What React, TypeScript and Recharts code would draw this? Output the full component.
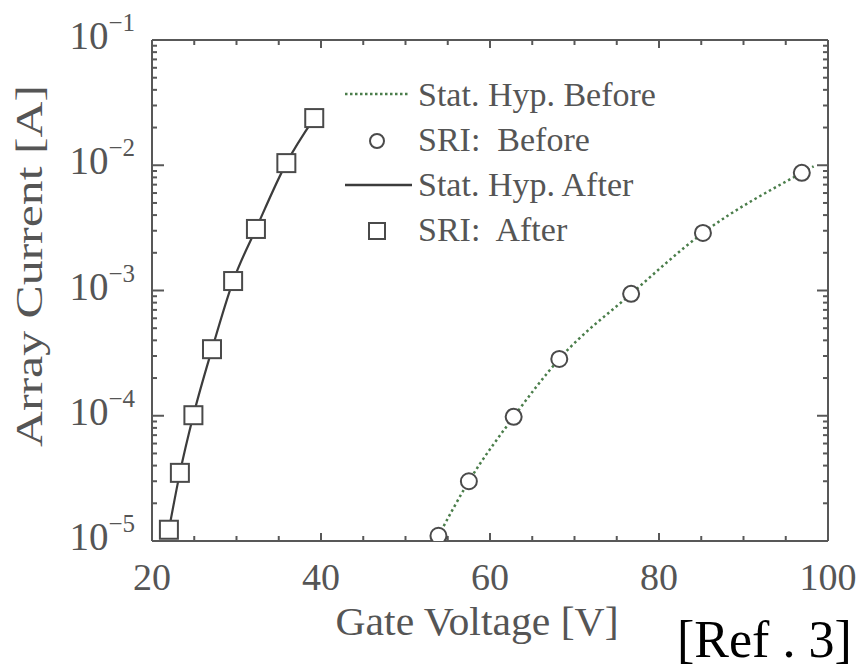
import React from 'react'
import { ComposedChart, Line, Scatter, XAxis, YAxis, Legend, Label } from 'recharts'

// SRI measurements (markers)
const beforeVoltage = [53.9, 57.5, 62.8, 68.2, 76.7, 85.2, 96.9]
const beforeCurrent = [1.1e-5, 3.0e-5, 9.8e-5, 2.84e-4, 9.4e-4, 2.88e-3, 8.7e-3]
const afterVoltage = [22.0, 23.3, 24.9, 27.1, 29.6, 32.3, 35.9, 39.2]
const afterCurrent = [1.23e-5, 3.5e-5, 1.01e-4, 3.4e-4, 1.19e-3, 3.1e-3, 1.04e-2, 2.38e-2]

// statistical hypothesis curves
const hypBeforeVoltage = [53.9, 57.5, 62.8, 68.2, 76.7, 85.2, 96.9, 98.3]
const hypBeforeCurrent = [1.1e-5, 3.0e-5, 9.8e-5, 2.84e-4, 9.4e-4, 2.88e-3, 8.7e-3, 9.8e-3]
const hypAfterVoltage = [22.0, 23.3, 24.9, 27.1, 29.6, 32.3, 35.9, 39.2]
const hypAfterCurrent = [1.23e-5, 3.5e-5, 1.01e-4, 3.4e-4, 1.19e-3, 3.1e-3, 1.04e-2, 2.38e-2]

const xMajorTicks = [20, 40, 60, 80, 100]
const xMinorTicks = [25, 30, 35, 45, 50, 55, 65, 70, 75, 85, 90, 95]
const yMajorTicks = [1e-5, 1e-4, 1e-3, 1e-2, 1e-1]
const yExponentLabels = ['\u22125', '\u22124', '\u22123', '\u22122', '\u22121']
const yMinorSteps = [2, 3, 4, 5, 6, 7, 8, 9]

const legendLabels = ['Stat. Hyp. Before', 'SRI:  Before', 'Stat. Hyp. After', 'SRI:  After']

const serif = "'Liberation Serif', 'Times New Roman', serif"
const ink = '#555'
const frame = '#585858'
const dotted = '#4a7d4a'
const solid = '#3c3c3c'

const toPoints = (xs: number[], ys: number[]) => xs.map((v, k) => ({ v, i: ys[k] }))
const yMinorTicks = yMajorTicks.slice(0, -1).flatMap(d => yMinorSteps.map(m => d * m))

const [xMin, xMax] = [xMajorTicks[0], xMajorTicks[xMajorTicks.length - 1]]
const [yMin, yMax] = [yMajorTicks[0], yMajorTicks[yMajorTicks.length - 1]]

// inward tick marks on all four sides of the frame
const tickMarks = [
  ...xMajorTicks.slice(1, -1).flatMap(v => [
    { v, i: yMin, dx: 0, dy: -8 },
    { v, i: yMax, dx: 0, dy: 8 },
  ]),
  ...xMinorTicks.flatMap(v => [
    { v, i: yMin, dx: 0, dy: -5 },
    { v, i: yMax, dx: 0, dy: 5 },
  ]),
  ...yMajorTicks.slice(1, -1).flatMap(i => [
    { v: xMin, i, dx: 12, dy: 0 },
    { v: xMax, i, dx: -11, dy: 0 },
  ]),
  ...yMinorTicks.flatMap(i => [
    { v: xMin, i, dx: 5, dy: 0 },
    { v: xMax, i, dx: -5, dy: 0 },
  ]),
]

const frameLine = { stroke: frame, strokeWidth: 2 }

function BottomLabel({ x, y, payload }: any) {
  return (
    <text x={x} y={y + 49} textAnchor="middle" fontFamily={serif} fontSize={38} fill={ink}>
      {payload.value}
    </text>
  )
}

function LeftLabel({ x, y, payload }: any) {
  const idx = yMajorTicks.findIndex(t => Math.abs(payload.value - t) < t * 1e-6)
  return (
    <text x={x - 17} y={y + 9} textAnchor="end" fontFamily={serif} fontSize={39} fill={ink}>
      10
      <tspan dy={-18} fontSize={25}>{yExponentLabels[idx]}</tspan>
    </text>
  )
}

const TickMark = ({ cx, cy, payload }: any) => (
  <line x1={cx} y1={cy} x2={cx + payload.dx} y2={cy + payload.dy} stroke={frame} strokeWidth={2} />
)

const CircleMark = ({ cx, cy }: any) => (
  <circle cx={cx} cy={cy} r={8} fill="#fff" stroke="#4a4a4a" strokeWidth={2} />
)

const SquareMark = ({ cx, cy }: any) => (
  <rect x={cx - 9} y={cy - 9} width={18} height={18} fill="#fff" stroke="#4a4a4a" strokeWidth={2} />
)

function LegendBox() {
  const rowY = [106, 151, 196, 241].map(b => b - 70)
  return (
    <svg width={340} height={190} style={{ overflow: 'visible' }}>
      <line x1={5} x2={70} y1={rowY[0] - 12} y2={rowY[0] - 12} stroke={dotted} strokeWidth={2.5} strokeDasharray="2.5 2.5" />
      <circle cx={37} cy={rowY[1] - 10} r={7} fill="#fff" stroke="#4a4a4a" strokeWidth={2} />
      <line x1={5} x2={72} y1={rowY[2] - 11} y2={rowY[2] - 11} stroke={solid} strokeWidth={2.5} />
      <rect x={29} y={rowY[3] - 18} width={16} height={16} fill="#fff" stroke="#4a4a4a" strokeWidth={2} />
      {legendLabels.map((t, k) => (
        <text key={t} x={78} y={rowY[k]} fontFamily={serif} fontSize={34} fill={ink} style={{ whiteSpace: 'pre' }}>
          {t}
        </text>
      ))}
    </svg>
  )
}

const xCommon = { type: 'number' as const, domain: [xMin, xMax], allowDataOverflow: true, interval: 0 }
const yCommon = { type: 'number' as const, scale: 'log' as const, domain: [yMin, yMax], allowDataOverflow: true, interval: 0 }

export default function App() {
  return (
    <div style={{ position: 'absolute', left: 0, top: 0, width: 859, height: 670, background: '#fff' }}>
      <ComposedChart width={859} height={670} margin={{ top: 30, right: 21, bottom: 99, left: 92 }}>
        <XAxis
          {...xCommon}
          dataKey="v"
          height={30}
          ticks={xMajorTicks}
          tickSize={0}
          tickMargin={0}
          tickLine={false}
          tick={<BottomLabel />}
          axisLine={frameLine}
        >
          <Label
            content={() => (
              <text x={477} y={635} textAnchor="middle" fontFamily={serif} fontSize={40} fill={ink} textLength={283} lengthAdjust="spacingAndGlyphs">
                Gate Voltage [V]
              </text>
            )}
          />
        </XAxis>
        <XAxis {...xCommon} xAxisId="top" orientation="top" height={10} ticks={xMajorTicks} tickLine={false} tick={false} axisLine={frameLine} />
        <YAxis
          {...yCommon}
          dataKey="i"
          width={60}
          ticks={yMajorTicks}
          tickSize={0}
          tickMargin={0}
          tickLine={false}
          tick={<LeftLabel />}
          axisLine={frameLine}
        >
          <Label
            content={() => (
              <text
                x={29}
                y={266}
                transform="rotate(-90 29 266)"
                textAnchor="middle"
                dominantBaseline="central"
                fontFamily={serif}
                fontSize={38}
                fill={ink}
                textLength={362}
                lengthAdjust="spacingAndGlyphs"
              >
                Array Current [A]
              </text>
            )}
          />
        </YAxis>
        <YAxis {...yCommon} yAxisId="right" orientation="right" width={10} ticks={yMajorTicks} tickLine={false} tick={false} axisLine={frameLine} />
        <Scatter data={tickMarks} dataKey="i" shape={<TickMark />} isAnimationActive={false} />
        <Line
          data={toPoints(hypBeforeVoltage, hypBeforeCurrent)}
          dataKey="i"
          type="monotone"
          stroke={dotted}
          strokeWidth={2.5}
          strokeDasharray="2.5 3"
          dot={false}
          isAnimationActive={false}
        />
        <Line
          data={toPoints(hypAfterVoltage, hypAfterCurrent)}
          dataKey="i"
          type="monotone"
          stroke={solid}
          strokeWidth={2.2}
          dot={false}
          isAnimationActive={false}
        />
        <Scatter data={toPoints(beforeVoltage, beforeCurrent)} dataKey="i" shape={<CircleMark />} isAnimationActive={false} />
        <Scatter data={toPoints(afterVoltage, afterCurrent)} dataKey="i" shape={<SquareMark />} isAnimationActive={false} />
        <Legend
          layout="vertical"
          align="center"
          verticalAlign="middle"
          content={() => <LegendBox />}
          wrapperStyle={{ left: 340, top: 70, width: 340, height: 190 }}
        />
      </ComposedChart>
      <div
        style={{
          position: 'absolute',
          left: 677,
          top: 614,
          fontFamily: serif,
          fontSize: 52,
          lineHeight: '52px',
          color: '#000',
          whiteSpace: 'pre',
        }}
      >
        [Ref . 3]
      </div>
    </div>
  )
}
